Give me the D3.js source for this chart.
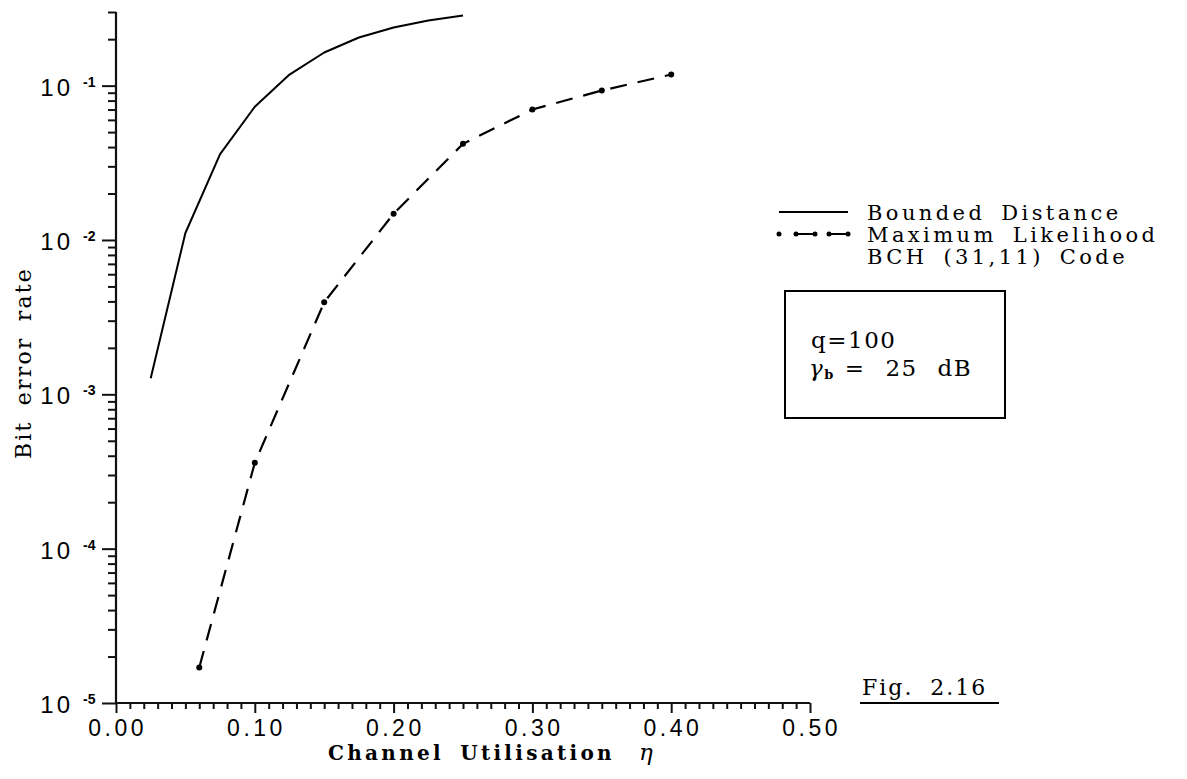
<!DOCTYPE html>
<html>
<head>
<meta charset="utf-8">
<script src="https://cdn.jsdelivr.net/npm/d3@7"></script>
<style>
  html, body { margin: 0; padding: 0; background: #fff; }
  svg { display: block; }
  .serif { font-family: "DejaVu Serif", "Liberation Serif", serif; fill: #000; }
  .sans { font-family: "Liberation Sans", "DejaVu Sans", sans-serif; fill: #000; }
</style>
</head>
<body>
<svg id="chart" width="1187" height="779"></svg>
<script>
// Channel utilisation values (x) and bit error rates for the two decoders
const boundedX = [0.025, 0.05, 0.075, 0.10, 0.125, 0.15, 0.175, 0.20, 0.225, 0.25];
const boundedBER = [1.27e-3, 1.11e-2, 3.6e-2, 7.3e-2, 1.18e-1, 1.64e-1, 2.05e-1, 2.38e-1, 2.64e-1, 2.85e-1];

const mlX = [0.06, 0.10, 0.15, 0.20, 0.25, 0.30, 0.35, 0.40];
const mlBER = [1.7e-5, 3.6e-4, 3.95e-3, 1.48e-2, 4.2e-2, 7.0e-2, 9.3e-2, 1.18e-1];

const xTickValues = [0, 0.1, 0.2, 0.3, 0.4, 0.5];
const xTickLabels = ["0.00", "0.10", "0.20", "0.30", "0.40", "0.50"];
const yDecades = [1e-5, 1e-4, 1e-3, 1e-2, 1e-1];
const yExponents = ["-5", "-4", "-3", "-2", "-1"];

const legendLabels = ["Bounded Distance", "Maximum Likelihood", "BCH (31,11) Code"];
const boxLines = ["q=100"];

const svg = d3.select("#chart");

const x = d3.scaleLinear().domain([0, 0.5]).range([116, 810]);
const y = d3.scaleLog().domain([1e-5, 0.3]).range([703, 12]);

const axisColor = "#111";

// x axis: minor ticks every 0.01, labelled majors every 0.1
const xMinor = d3.range(0, 51).map(i => i / 100).filter(v => !xTickValues.some(t => Math.abs(t - v) < 1e-9));
const xAxisMinor = d3.axisBottom(x).tickValues(xMinor).tickSize(6).tickFormat("");
const xAxisMajor = d3.axisBottom(x).tickValues(xTickValues).tickSize(10).tickFormat("");

const gxMinor = svg.append("g").attr("transform", `translate(0,${y(1e-5)})`).call(xAxisMinor);
const gxMajor = svg.append("g").attr("transform", `translate(0,${y(1e-5)})`).call(xAxisMajor);
[gxMinor, gxMajor].forEach(g => {
  g.select(".domain").remove();
  g.selectAll("line").attr("stroke", axisColor).attr("stroke-width", 2);
});

// y axis: decades with long ticks, 2..9 with short ticks
const yMinor = [];
for (let e = -5; e <= -1; e++) {
  for (let m = 2; m <= 9; m++) {
    const v = m * Math.pow(10, e);
    if (v <= 0.3 + 1e-12) yMinor.push(v);
  }
}
const yAxisMinor = d3.axisLeft(y).tickValues(yMinor).tickSize(8).tickFormat("");
const yAxisMajor = d3.axisLeft(y).tickValues(yDecades).tickSize(14).tickFormat("");
const gyMinor = svg.append("g").attr("transform", `translate(${x(0)},0)`).call(yAxisMinor);
const gyMajor = svg.append("g").attr("transform", `translate(${x(0)},0)`).call(yAxisMajor);
[gyMinor, gyMajor].forEach(g => {
  g.select(".domain").remove();
  g.selectAll("line").attr("stroke", axisColor).attr("stroke-width", 2);
});

// axis lines
svg.append("line")
  .attr("x1", x(0)).attr("x2", x(0))
  .attr("y1", y(0.3)).attr("y2", y(1e-5))
  .attr("stroke", axisColor).attr("stroke-width", 2.2);
svg.append("line")
  .attr("x1", x(0)).attr("x2", x(0.5))
  .attr("y1", y(1e-5)).attr("y2", y(1e-5))
  .attr("stroke", axisColor).attr("stroke-width", 2.2);

// x tick labels
svg.append("g").selectAll("text")
  .data(xTickValues)
  .join("text")
  .attr("class", "sans")
  .attr("x", d => x(d) + 1.7)
  .attr("y", y(1e-5) + 33)
  .attr("text-anchor", "middle")
  .attr("font-size", 23)
  .attr("letter-spacing", 3.5)
  .text((d, i) => xTickLabels[i]);

// y tick labels as 10 with superscript exponent
const yLab = svg.append("g");
yDecades.forEach((d, i) => {
  yLab.append("text")
    .attr("class", "sans")
    .attr("x", 73)
    .attr("y", y(d) + 10)
    .attr("text-anchor", "end")
    .attr("font-size", 24)
    .attr("letter-spacing", 3)
    .text("10");
  yLab.append("text")
    .attr("class", "sans")
    .attr("x", 83)
    .attr("y", y(d) + 1)
    .attr("font-size", 14)
    .attr("font-weight", "bold")
    .text(yExponents[i]);
});

// axis titles
const xTitle = svg.append("text")
  .attr("class", "serif")
  .attr("x", 328)
  .attr("y", 760)
  .attr("font-size", 20)
  .attr("font-weight", "bold")
  .attr("letter-spacing", 3.3)
  .attr("word-spacing", 6);
xTitle.append("tspan").text("Channel Utilisation");
xTitle.append("tspan")
  .attr("dx", 24)
  .attr("font-style", "italic")
  .attr("font-weight", "normal")
  .attr("font-size", 23)
  .text("η");

svg.append("text")
  .attr("class", "serif")
  .attr("transform", "translate(31,363) rotate(-90)")
  .attr("text-anchor", "middle")
  .attr("font-size", 22)
  .attr("letter-spacing", 2.2)
  .attr("word-spacing", 6)
  .text("Bit error rate");

// curves
const line = d3.line().x(d => x(d[0])).y(d => y(d[1]));

svg.append("path")
  .datum(boundedX.map((v, i) => [v, boundedBER[i]]))
  .attr("d", line)
  .attr("fill", "none")
  .attr("stroke", "#000")
  .attr("stroke-width", 2)
  .attr("stroke-linejoin", "round");

const mlData = mlX.map((v, i) => [v, mlBER[i]]);
svg.append("path")
  .datum(mlData)
  .attr("d", line)
  .attr("fill", "none")
  .attr("stroke", "#000")
  .attr("stroke-width", 2.2)
  .attr("stroke-dasharray", "17,11");

svg.append("g").selectAll("circle")
  .data(mlData)
  .join("circle")
  .attr("cx", d => x(d[0]))
  .attr("cy", d => y(d[1]))
  .attr("r", 3)
  .attr("fill", "#000");

// legend
const lg = svg.append("g");
lg.append("line")
  .attr("x1", 779).attr("x2", 848).attr("y1", 212).attr("y2", 212)
  .attr("stroke", "#000").attr("stroke-width", 2);
lg.append("line")
  .attr("x1", 796).attr("x2", 848).attr("y1", 234).attr("y2", 234)
  .attr("stroke", "#000").attr("stroke-width", 2)
  .attr("stroke-dasharray", "19,14");
[779, 796, 815, 829, 848].forEach(cx => {
  lg.append("circle").attr("cx", cx).attr("cy", 234).attr("r", 2.5).attr("fill", "#000");
});
lg.selectAll("text.leg")
  .data(legendLabels)
  .join("text")
  .attr("class", "serif leg")
  .attr("x", 867)
  .attr("y", (d, i) => 220 + i * 22)
  .attr("font-size", 21)
  .attr("letter-spacing", 3.4)
  .attr("word-spacing", 6)
  .text(d => d);

// parameter box
svg.append("rect")
  .attr("x", 785).attr("y", 291).attr("width", 220).attr("height", 127)
  .attr("fill", "none").attr("stroke", "#000").attr("stroke-width", 2);
svg.append("text")
  .attr("class", "serif")
  .attr("x", 811).attr("y", 348)
  .attr("font-size", 23)
  .attr("letter-spacing", 1.5)
  .text(boxLines[0]);
const g2 = svg.append("text")
  .attr("class", "serif")
  .attr("x", 809).attr("y", 376)
  .attr("font-size", 23)
  .attr("letter-spacing", 1.5);
g2.append("tspan").attr("font-style", "italic").text("γ");
g2.append("tspan").attr("font-size", 13).attr("font-weight", "bold").attr("dy", 3).text("b");
g2.append("tspan").attr("dy", -3).attr("dx", 10).attr("word-spacing", 11).text("=  25  dB");

// figure number
svg.append("text")
  .attr("class", "serif")
  .attr("x", 862).attr("y", 695)
  .attr("font-size", 22)
  .attr("letter-spacing", 2)
  .attr("word-spacing", 8)
  .text("Fig. 2.16");
svg.append("line")
  .attr("x1", 860).attr("x2", 999).attr("y1", 703).attr("y2", 703)
  .attr("stroke", "#000").attr("stroke-width", 1.8);
</script>
</body>
</html>
